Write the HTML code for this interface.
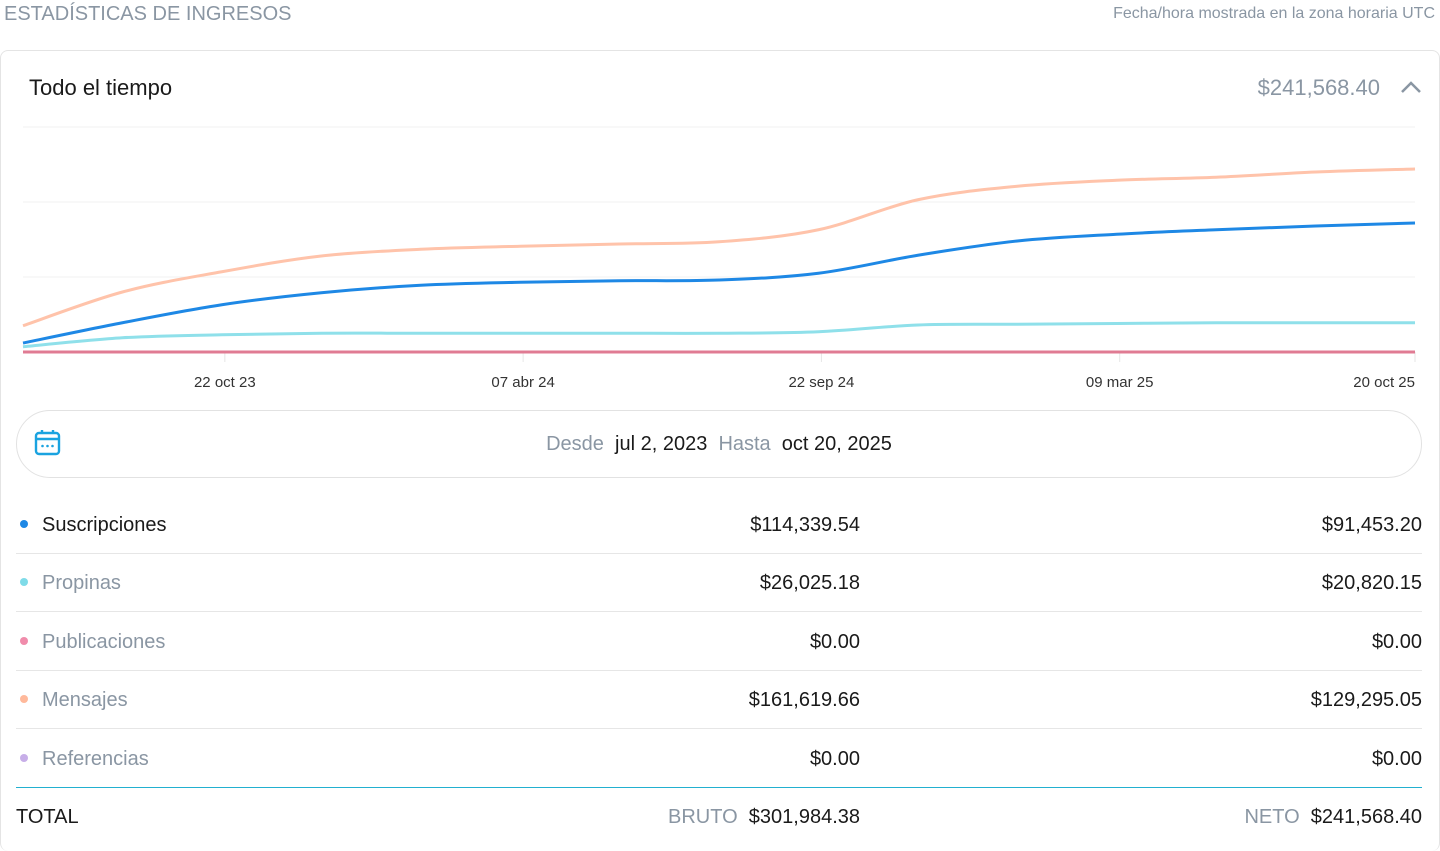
<!DOCTYPE html>
<html><head><meta charset="utf-8"><style>
body{margin:0;width:1440px;height:842px;background:#fff;font-family:"Liberation Sans",Arial,sans-serif;position:relative;overflow:hidden;color:#1a1a1a}
.abs{position:absolute}
.row{position:absolute;left:16px;width:1406px;height:58px;border-bottom:1px solid #e6e6e6}
.row .lbl{position:absolute;left:26px;top:19px;font-size:20px;color:#8a96a3}
.row .dot{position:absolute;left:4px;top:25px;width:8px;height:8px;border-radius:50%}
.row .v1{position:absolute;right:562px;top:19px;font-size:20px;color:#1a1a1a}
.row .v2{position:absolute;right:0;top:19px;font-size:20px;color:#1a1a1a}
</style></head><body>
<div class="abs" style="left:4px;top:3px;font-size:20px;color:#8a96a3">ESTADÍSTICAS DE INGRESOS</div>
<div class="abs" style="right:5px;top:5px;font-size:16px;color:#8a96a3">Fecha/hora mostrada en la zona horaria UTC</div>
<div class="abs" style="left:0;top:50px;width:1438px;height:800px;border:1px solid #e4e4e4;border-radius:8px;border-bottom:none"></div>
<div class="abs" style="left:29px;top:75px;font-size:22px;color:#1a1a1a">Todo el tiempo</div>
<div class="abs" style="right:60px;top:75px;font-size:22px;color:#8a96a3">$241,568.40</div>
<svg class="abs" style="left:1400px;top:79px" width="22" height="16"><path d="M2 13 L11 4 L20 13" fill="none" stroke="#8a96a3" stroke-width="2.5"/></svg>
<svg id="chart" class="abs" style="left:0;top:110px" width="1440" height="290"></svg>
<div class="abs" style="left:16px;top:410px;width:1404px;height:66px;border:1px solid #e2e2e2;border-radius:34px">
<svg class="abs" style="left:17px;top:18px" width="28" height="28"><rect x="2" y="4" width="23" height="21" rx="3" fill="none" stroke="#1aa3e0" stroke-width="2.4"/><line x1="2" y1="10" x2="25" y2="10" stroke="#1aa3e0" stroke-width="2.4"/><line x1="8" y1="1" x2="8" y2="5" stroke="#1aa3e0" stroke-width="2.4"/><line x1="19" y1="1" x2="19" y2="5" stroke="#1aa3e0" stroke-width="2.4"/><circle cx="8.5" cy="17" r="1.3" fill="#1aa3e0"/><circle cx="13.5" cy="17" r="1.3" fill="#1aa3e0"/><circle cx="18.5" cy="17" r="1.3" fill="#1aa3e0"/></svg>
<div class="abs" style="left:0;width:1404px;top:22px;text-align:center;font-size:20px"><span style="color:#8a96a3">Desde</span>&nbsp; jul 2, 2023 &nbsp;<span style="color:#8a96a3">Hasta</span>&nbsp; oct 20, 2025</div>
</div>
<div class="row" style="top:495px"><span class="dot" style="background:#1e88e5"></span><span class="lbl" style="color:#1a1a1a">Suscripciones</span><span class="v1">$114,339.54</span><span class="v2">$91,453.20</span></div>
<div class="row" style="top:553px"><span class="dot" style="background:#7fdbe8"></span><span class="lbl">Propinas</span><span class="v1">$26,025.18</span><span class="v2">$20,820.15</span></div>
<div class="row" style="top:612px"><span class="dot" style="background:#f08cab"></span><span class="lbl">Publicaciones</span><span class="v1">$0.00</span><span class="v2">$0.00</span></div>
<div class="row" style="top:670px"><span class="dot" style="background:#ffb99b"></span><span class="lbl">Mensajes</span><span class="v1">$161,619.66</span><span class="v2">$129,295.05</span></div>
<div class="row" style="top:729px;border-bottom:1px solid #22b0d0"><span class="dot" style="background:#c7aee8"></span><span class="lbl">Referencias</span><span class="v1">$0.00</span><span class="v2">$0.00</span></div>
<div class="row" style="top:787px;border:none"><span class="lbl" style="left:0;color:#1a1a1a">TOTAL</span><span class="v1"><span style="color:#8a96a3">BRUTO</span>&nbsp; $301,984.38</span><span class="v2"><span style="color:#8a96a3">NETO</span>&nbsp; $241,568.40</span></div>
<script>
const mensajes=[35,80,107,128,137,141,144,147,163,203,221,229,233,240,244];
const suscripciones=[12,39,63,79,89,93,95,96,105,129,148,157,163,168,172];
const propinas=[7,19,23,25,25,25,25,25,27,36,37,38,39,39,39];
const publicaciones=[0,0,0,0,0,0,0,0,0,0,0,0,0,0,0];
const tickLabels=["22 oct 23","07 abr 24","22 sep 24","09 mar 25","20 oct 25"];
const tickIdx=[2.03,5.03,8.03,11.03,14];
const gridVals=[100,200,300];
const svg=document.getElementById('chart');const NS='http://www.w3.org/2000/svg';
const x0=23,x1=1415,base=242,pxPer=0.75;
const n=mensajes.length;
const X=i=>x0+(x1-x0)*i/(n-1);
const Y=v=>base-v*pxPer;
function mk(t,a){const e=document.createElementNS(NS,t);for(const k in a)e.setAttribute(k,a[k]);svg.appendChild(e);return e;}
gridVals.forEach(v=>{const g=mk('line',{x1:x0,x2:x1,y1:Y(v),y2:Y(v),stroke:'#f0f0f0','stroke-width':1});

});
tickIdx.forEach((t,k)=>{const tx=X(t);
const tl=mk('line',{x1:tx,x2:tx,y1:base,y2:base+10,stroke:'#e6e6e6'});


const last=k==tickLabels.length-1;
const tt=mk('text',{x:tx,y:base+35,'text-anchor':last?'end':'middle','font-size':15,fill:'#333','font-family':'Liberation Sans, sans-serif'});
tt.textContent=tickLabels[k];

});
function path(d){const p=d.map((v,i)=>[X(i),Y(v)]);let s='M'+p[0][0]+' '+p[0][1];
for(let i=0;i<p.length-1;i++){const a=p[i-1]||p[i],b=p[i],c=p[i+1],e=p[i+2]||c;
s+=' C'+(b[0]+(c[0]-a[0])/6)+' '+(b[1]+(c[1]-a[1])/6)+' '+(c[0]-(e[0]-b[0])/6)+' '+(c[1]-(e[1]-b[1])/6)+' '+c[0]+' '+c[1];}return s;}
[[publicaciones,'#e07b93','series-publicaciones'],[propinas,'#8fe0ea','series-propinas'],[mensajes,'#ffc3aa','series-mensajes'],[suscripciones,'#1e88e5','series-suscripciones']].forEach(([d,c,nm])=>{
const l=mk('path',{d:path(d),fill:'none',stroke:c,'stroke-width':3});

});
</script>
</body></html>
